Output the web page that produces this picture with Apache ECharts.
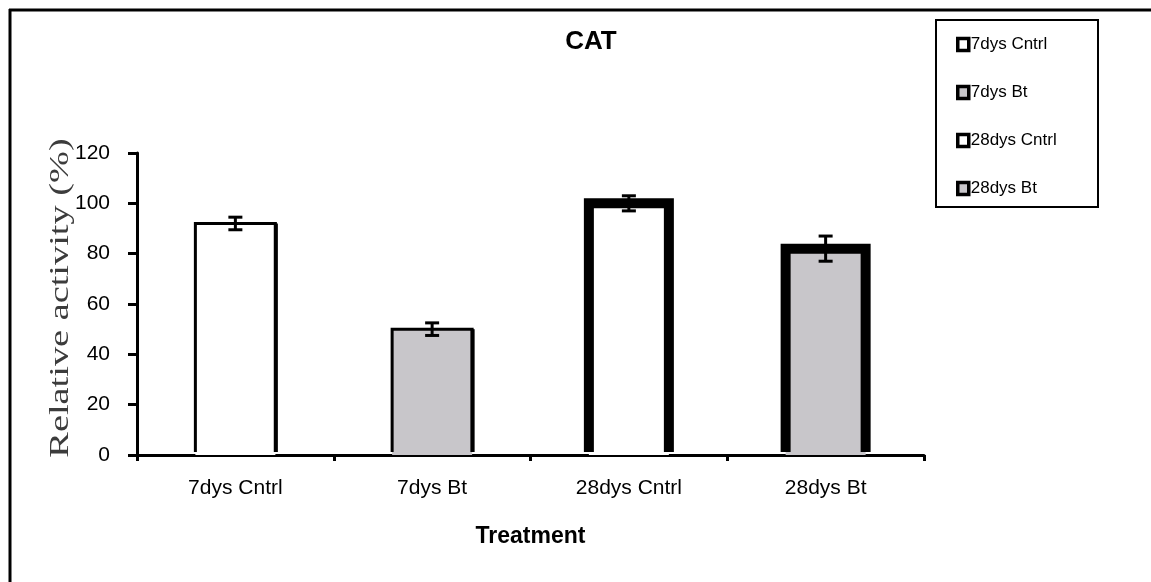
<!DOCTYPE html>
<html>
<head>
<meta charset="utf-8">
<script src="https://cdn.jsdelivr.net/npm/echarts@6/dist/echarts.min.js"></script>
<style>
  html, body { margin: 0; padding: 0; background: #fff; }
  #chart { width: 1151px; height: 582px; }
</style>
</head>
<body>
<div id="chart"></div>
<script>
// CAT relative activity by treatment group
const categories = ['7dys Cntrl', '7dys Bt', '28dys Cntrl', '28dys Bt'];
const activity = [92, 50, 100, 82];
const errors = [2.5, 2.5, 3, 5];
const yTicks = [0, 20, 40, 60, 80, 100, 120];

const sans = "'Liberation Sans', Arial, sans-serif";
const fills = ['#ffffff', '#c8c6ca', '#ffffff', '#c8c6ca'];
const outline = [3, 3, 10, 10];

const chart = echarts.init(document.getElementById('chart'));

// Each treatment is its own series so it gets a legend entry; the bar is an
// open box (left, top, right) drawn on the value scale.
const barSeries = categories.map((c, i) => ({
  name: c,
  type: 'custom',
  data: [[i, activity[i]]],
  itemStyle: { color: fills[i], borderColor: '#000', borderWidth: 3 },
  z: 2,
  renderItem: function (params, api) {
    const top = api.coord([api.value(0), api.value(1)]);
    const base = api.coord([api.value(0), 0]);
    const half = 40;
    const cx = top[0];
    const w = outline[i];
    const children = [
      { type: 'rect', shape: { x: cx - half, y: top[1], width: half * 2, height: base[1] - top[1] },
        style: { fill: fills[i] } },
      { type: 'polyline',
        shape: { points: [[cx - half, base[1] - 3], [cx - half, top[1]], [cx + half, top[1]], [cx + half, base[1] - 3]] },
        style: { stroke: '#000', lineWidth: w, fill: null, lineJoin: 'miter' } }
    ];
    if (w < 5) {
      children.push({ type: 'line',
        shape: { x1: cx + half + 0.5, y1: top[1], x2: cx + half + 0.5, y2: base[1] - 3 },
        style: { stroke: '#000', lineWidth: 4 } });
    }
    return { type: 'group', children };
  }
}));

const errorSeries = {
  type: 'custom',
  name: 'error',
  data: categories.map((c, i) => [i, activity[i] - errors[i], activity[i] + errors[i]]),
  z: 5,
  renderItem: function (params, api) {
    const x = api.value(0);
    const lo = api.coord([x, api.value(1)]);
    const hi = api.coord([x, api.value(2)]);
    const half = 7;
    const style = { stroke: '#000', lineWidth: 3 };
    return {
      type: 'group',
      children: [
        { type: 'line', shape: { x1: lo[0], y1: lo[1], x2: hi[0], y2: hi[1] }, style },
        { type: 'line', shape: { x1: lo[0] - half, y1: lo[1], x2: lo[0] + half, y2: lo[1] }, style },
        { type: 'line', shape: { x1: hi[0] - half, y1: hi[1], x2: hi[0] + half, y2: hi[1] }, style }
      ]
    };
  }
};

chart.setOption({
  animation: false,
  backgroundColor: '#fff',
  title: {
    text: 'CAT',
    left: 586,
    top: 24,
    textAlign: 'center',
    textStyle: { fontFamily: sans, fontWeight: 'bold', fontSize: 26, color: '#000' }
  },
  legend: {
    orient: 'vertical',
    left: 956,
    top: 36,
    padding: 0,
    itemGap: 31,
    itemWidth: 11,
    itemHeight: 12,
    selectedMode: false,
    icon: 'rect',
    data: categories.map((c, i) => ({
      name: c,
      itemStyle: { color: fills[i], borderColor: '#000', borderWidth: 3.5 }
    })),
    textStyle: { fontFamily: sans, fontSize: 17, lineHeight: 12, color: '#000', padding: [0, 0, 0, -3] }
  },
  grid: { left: 137, right: 227, top: 153, bottom: 127 },
  xAxis: {
    type: 'category',
    data: categories,
    name: 'Treatment',
    nameLocation: 'middle',
    nameGap: 70,
    nameTextStyle: { fontFamily: sans, fontWeight: 'bold', fontSize: 23, color: '#000' },
    axisLine: { lineStyle: { color: '#000', width: 3 } },
    axisTick: { show: true, length: 6, lineStyle: { color: '#000', width: 3 } },
    axisLabel: { fontFamily: sans, fontSize: 21, color: '#000', margin: 23 },
    splitLine: { show: false }
  },
  yAxis: {
    type: 'value',
    min: yTicks[0],
    max: yTicks[yTicks.length - 1],
    interval: yTicks[1] - yTicks[0],
    axisLine: { show: true, lineStyle: { color: '#000', width: 3 } },
    axisTick: { show: true, length: 9, lineStyle: { color: '#000', width: 3 } },
    axisLabel: { fontFamily: sans, fontSize: 21, color: '#000', margin: 27 },
    splitLine: { show: false }
  },
  graphic: [
    { type: 'line', shape: { x1: 9, y1: 10, x2: 1151, y2: 10 }, style: { stroke: '#000', lineWidth: 3 } },
    { type: 'line', shape: { x1: 10, y1: 9, x2: 10, y2: 582 }, style: { stroke: '#000', lineWidth: 3 } },
    { type: 'rect', shape: { x: 936, y: 20, width: 162, height: 187 }, style: { fill: 'none', stroke: '#000', lineWidth: 2 } },
    {
      type: 'text',
      x: 61,
      y: 298,
      rotation: Math.PI / 2,
      scaleX: 1.42,
      style: {
        text: 'Relative activity (%)',
        font: "27px 'Liberation Serif', 'Times New Roman', serif",
        fill: '#3c3c3c',
        align: 'center',
        verticalAlign: 'middle'
      }
    }
  ],
  series: [...barSeries, errorSeries]
});
</script>
</body>
</html>
